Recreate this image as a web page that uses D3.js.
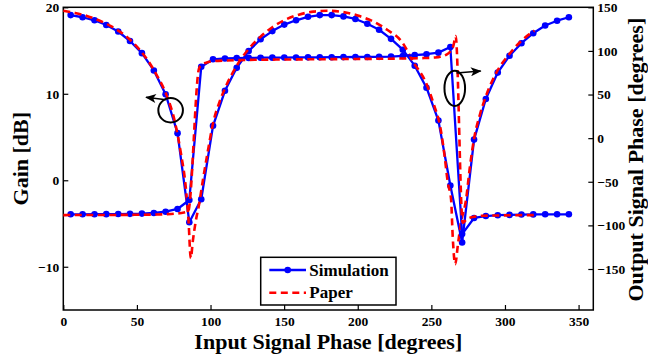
<!DOCTYPE html>
<html>
<head>
<meta charset="utf-8">
<script src="https://cdn.jsdelivr.net/npm/d3@7"></script>
<style>
  body { margin: 0; background: #fff; }
  svg text { font-family: "Liberation Serif", "Times New Roman", serif; font-weight: bold; }
</style>
</head>
<body>
<svg id="chart"></svg>
<script>
// simulation samples (input phase, degrees)
const simX = [5.0, 13.1, 21.2, 29.2, 37.3, 45.3, 53.4, 61.5, 69.5, 77.6, 85.6, 93.7, 101.7, 109.8, 117.8,
  125.9, 134.0, 142.0, 150.1, 158.1, 166.2, 174.2, 182.3, 190.3, 198.4, 206.5, 214.5, 222.6, 230.6, 238.7,
  246.7, 254.8, 262.9, 270.9, 279.0, 287.0, 295.1, 303.1, 311.2, 319.2, 327.3, 335.4, 343.4]
const simGain = [19.1, 18.85, 18.5, 17.95, 17.2, 16.1, 14.7, 12.7, 9.95, 5.45, -4.85, -2.2, 6.3, 10.35, 13.0,
  14.95, 16.3, 17.25, 18.0, 18.5, 18.9, 19.1, 19.1, 18.95, 18.65, 18.1, 17.4, 16.35, 15.1, 13.25,
  10.7, 6.9, -0.6, -7.2, 4.7, 9.4, 12.45, 14.4, 15.85, 17.0, 17.9, 18.45, 18.85]
const simPhase = [-87.3, -87.3, -87.2, -87.1, -87.0, -86.8, -86.5, -85.8, -84.3, -81.2, -70.9, 81.9, 90.4, 91.3, 91.8,
  92.0, 92.2, 92.3, 92.4, 92.5, 92.6, 92.7, 92.8, 92.9, 93.0, 93.1, 93.2, 93.4, 94.2, 95.2,
  96.2, 98.0, 104.5, -110, -91.5, -89.3, -88.3, -88.0, -87.6, -87.4, -87.3, -87.3, -87.3]

// values from the paper
const paperGainX = [0, 8, 16, 24, 32, 40, 48, 56, 64, 70, 76, 80, 83, 85, 86.6, 88, 90, 92, 95, 98, 102, 106, 110,
  118, 126, 134, 142, 150, 160, 170, 180, 190, 200, 210, 220, 230, 238, 246, 252, 256, 259, 261.2, 263.4,
  264.5, 266.2, 268, 270, 273.6, 276, 279, 283, 287, 295, 303, 311, 320]
const paperGain = [19.6, 19.35, 19.0, 18.5, 17.85, 17.0, 15.8, 14.2, 12.0, 9.9, 6.6, 3.0, -0.5, -4.5, -9.0, -7.0, -4.7, -3.0, 0.2, 3.2, 6.8, 9.0, 10.7,
  13.3, 15.2, 16.6, 17.7, 18.5, 19.15, 19.5, 19.6, 19.45, 19.05, 18.4, 17.4, 16.0, 13.6, 11.4, 8.6, 6.2, 2.8, -0.3, -2.2,
  -6.5, -9.7, -7.5, -5.0, -2.2, 1.3, 4.8, 7.6, 9.7, 12.7, 14.6, 16.1, 17.3]
const paperPhaseX = [0, 20, 40, 60, 70, 76, 80, 84.8, 92.2, 94, 97, 100, 110, 130, 160, 200, 230, 245, 252, 256,
  260, 263, 265, 266.5, 271.3, 274, 278, 285, 300, 320]
const paperPhase = [-88.2, -88.1, -88.0, -87.6, -87.2, -86.6, -85.8, -84.0, 80, 84, 86.5, 87.8, 89, 89.8, 90.3, 90.8, 91.3, 91.8, 92.4, 93.3,
  95.5, 99.5, 106, 117, -97, -93, -90.5, -89, -88.5, -88.2]

const xTicks = [0, 50, 100, 150, 200, 250, 300, 350]
const gainTicks = [-10, 0, 10, 20]
const phaseTicks = [-150, -100, -50, 0, 50, 100, 150]
const seriesNames = ['Simulation', 'Paper']

const width = 648, height = 358
const margin = { left: 63.3, right: 54.7, top: 7.3, bottom: 48 }
const blue = '#0000ff', red = '#ff0000'

const svg = d3.select('#chart').attr('width', width).attr('height', height)

const x = d3.scaleLinear().domain([0, 360]).range([margin.left, width - margin.right])
const yL = d3.scaleLinear().domain([-15, 20]).range([height - margin.bottom, margin.top])
const yR = d3.scaleLinear().domain([-197, 150]).range([height - margin.bottom, margin.top])

const bottom = height - margin.bottom, right = width - margin.right

// axes, ticks drawn inward
svg.append('g')
  .attr('transform', `translate(0,${bottom})`)
  .call(d3.axisBottom(x).tickValues(xTicks).tickSizeInner(-5).tickSizeOuter(0).tickPadding(6))
  .call(g => g.select('.domain').remove())
svg.append('g')
  .attr('transform', `translate(${margin.left},0)`)
  .call(d3.axisLeft(yL).tickValues(gainTicks).tickSizeInner(-5).tickSizeOuter(0).tickPadding(4))
  .call(g => g.select('.domain').remove())
svg.append('g')
  .attr('transform', `translate(${right},0)`)
  .call(d3.axisRight(yR).tickValues(phaseTicks).tickSizeInner(-5).tickSizeOuter(0).tickPadding(4))
  .call(g => g.select('.domain').remove())

svg.selectAll('.tick text').style('font-size', '13.5px').attr('fill', '#000')
svg.selectAll('.tick line').attr('stroke', '#000').attr('stroke-width', 1.2)

// frame
svg.append('rect')
  .attr('x', margin.left).attr('y', margin.top)
  .attr('width', right - margin.left).attr('height', bottom - margin.top)
  .attr('fill', 'none').attr('stroke', '#000').attr('stroke-width', 1.5)

const lineG = d3.line().x(d => x(d[0])).y(d => yL(d[1]))
const lineP = d3.line().x(d => x(d[0])).y(d => yR(d[1]))
const smoothG = d3.line().curve(d3.curveMonotoneX).x(d => x(d[0])).y(d => yL(d[1]))
const smoothP = d3.line().curve(d3.curveMonotoneX).x(d => x(d[0])).y(d => yR(d[1]))

const simGainPts = simX.map((v, i) => [v, simGain[i]])
const simPhasePts = simX.map((v, i) => [v, simPhase[i]])
const paperGainPts = paperGainX.map((v, i) => [v, paperGain[i]])
const paperPhasePts = paperPhaseX.map((v, i) => [v, paperPhase[i]])

const plot = svg.append('g')

function drawSim(pts, line, yScale) {
  plot.append('path').datum(pts)
    .attr('d', line).attr('fill', 'none')
    .attr('stroke', blue).attr('stroke-width', 2.3).attr('stroke-linejoin', 'round')
  plot.append('g').selectAll('circle').data(pts).enter().append('circle')
    .attr('cx', d => x(d[0])).attr('cy', d => yScale(d[1])).attr('r', 3.3)
    .attr('fill', blue)
}
function drawPaper(pts, line) {
  plot.append('path').datum(pts)
    .attr('d', line).attr('fill', 'none')
    .attr('stroke', red).attr('stroke-width', 2.6).attr('stroke-dasharray', '7,4.5')
}

drawSim(simGainPts, lineG, yL)
drawPaper(paperGainPts, smoothG)
drawSim(simPhasePts, lineP, yR)
drawPaper(paperPhasePts, smoothP)

// annotations: ellipses + arrows showing which axis
const defs = svg.append('defs')
defs.append('marker').attr('id', 'head')
  .attr('viewBox', '0 0 12 10').attr('refX', 11).attr('refY', 5)
  .attr('markerWidth', 12).attr('markerHeight', 9).attr('markerUnits', 'userSpaceOnUse')
  .attr('orient', 'auto')
  .append('path').attr('d', 'M0,0 L12,5 L0,10 L3,5 Z').attr('fill', '#000')

svg.append('ellipse')
  .attr('cx', x(72.9)).attr('cy', yL(8.1)).attr('rx', 12.3).attr('ry', 12.2)
  .attr('fill', 'none').attr('stroke', '#000').attr('stroke-width', 2)
svg.append('line')
  .attr('x1', x(69.7)).attr('y1', yL(9.3)).attr('x2', x(56.2)).attr('y2', yL(9.6))
  .attr('stroke', '#000').attr('stroke-width', 1.5).attr('marker-end', 'url(#head)')

svg.append('ellipse')
  .attr('cx', x(265.9)).attr('cy', yR(57.1)).attr('rx', 10.3).attr('ry', 17.7)
  .attr('fill', 'none').attr('stroke', '#000').attr('stroke-width', 2)
svg.append('line')
  .attr('x1', x(267.1)).attr('y1', yR(74.7)).attr('x2', x(283.5)).attr('y2', yR(77))
  .attr('stroke', '#000').attr('stroke-width', 1.5).attr('marker-end', 'url(#head)')

// legend
const lg = svg.append('g').attr('transform', 'translate(260.7,257.3)')
lg.append('rect').attr('width', 135.3).attr('height', 47.7)
  .attr('fill', '#fff').attr('stroke', '#000').attr('stroke-width', 1.5)
seriesNames.forEach((name, i) => {
  const cy = 12.7 + i * 22.7
  const row = lg.append('g')
  row.append('line').attr('x1', 8.6).attr('x2', 45.3).attr('y1', cy).attr('y2', cy)
    .attr('stroke', i === 0 ? blue : red)
    .attr('stroke-width', i === 0 ? 2.3 : 2.6)
    .attr('stroke-dasharray', i === 0 ? null : '7,4.5')
  if (i === 0) row.append('circle').attr('cx', 27).attr('cy', cy).attr('r', 3.3).attr('fill', blue)
  row.append('text').attr('x', 48.6).attr('y', cy + 5.8)
    .style('font-size', '17px').text(name)
})

// axis titles
svg.append('text')
  .attr('x', (margin.left + right) / 2).attr('y', 348.5)
  .attr('text-anchor', 'middle').style('font-size', '22px')
  .text('Input Signal Phase [degrees]')
svg.append('text')
  .attr('transform', `translate(28,${(margin.top + bottom) / 2}) rotate(-90)`)
  .attr('text-anchor', 'middle').style('font-size', '22px')
  .text('Gain [dB]')
svg.append('text')
  .attr('transform', `translate(643,${(margin.top + bottom) / 2 + 1}) rotate(-90)`)
  .attr('text-anchor', 'middle').style('font-size', '22px')
  .text('Output Signal Phase [degrees]')
</script>
</body>
</html>
